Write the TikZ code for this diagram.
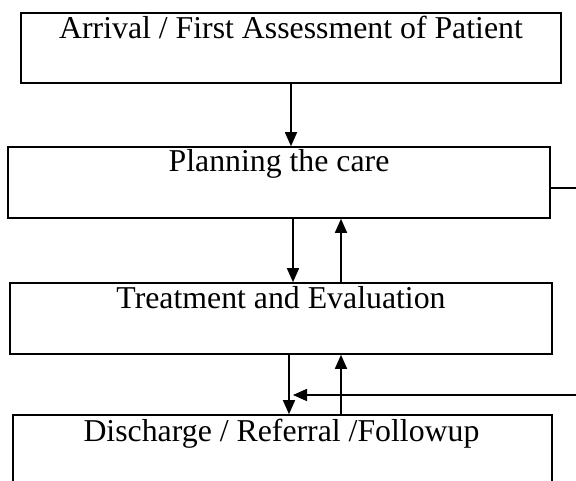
\documentclass[tikz,border=0pt]{standalone}
\usepackage{fontspec}
\setmainfont{Liberation Serif}
\usetikzlibrary{arrows.meta}
\begin{document}
\begin{tikzpicture}[x=1pt,y=-1pt,
  box/.style={draw, line width=1.6pt, rectangle, inner sep=0pt, minimum height=71pt},
  lbl/.style={anchor=base, inner sep=0pt, font=\fontsize{31.8}{36}\selectfont},
  arr/.style={line width=1.5pt, -{Triangle[width=12pt,length=14pt]}},
  ln/.style={line width=1.5pt}]
\useasboundingbox (0,0) rectangle (576,481);
\clip (0,0) rectangle (576,481);
\node[box, minimum width=540pt, minimum height=70pt] (b1) at (291,48) {};
\node[box, minimum width=542pt] (b2) at (279,182.5) {};
\node[box, minimum width=542pt] (b3) at (281,318.5) {};
\node[box, minimum width=539pt] (b4) at (282.5,450.5) {};
\node[lbl] (t1) at ([yshift=-26pt]b1.north) {Arrival / First Assessment of Patient};
\node[lbl] (t2) at ([yshift=-25pt]b2.north) {Planning the care};
\node[lbl] (t3) at ([yshift=-26pt]b3.north) {Treatment and Evaluation};
\node[lbl] (t4) at ([yshift=-27pt,xshift=-1pt]b4.north) {Discharge / Referral /Followup};
\coordinate (fbend) at (293,395);
\draw[arr] (b1.south) -- (b1.south |- b2.north);
\draw[arr] ([xshift=14pt]b2.south) -- ([xshift=12pt]b3.north);
\draw[arr] ([xshift=60pt]b3.north) -- ([xshift=62pt]b2.south);
\draw[arr] ([xshift=8pt]b3.south) -- ([xshift=6.5pt]b4.north);
\draw[arr] ([xshift=58.5pt]b4.north) -- ([xshift=60pt]b3.south);
\draw[arr] ([yshift=-5.5pt]b2.east) -- ++(40,0) |- (fbend);
\end{tikzpicture}
\end{document}
